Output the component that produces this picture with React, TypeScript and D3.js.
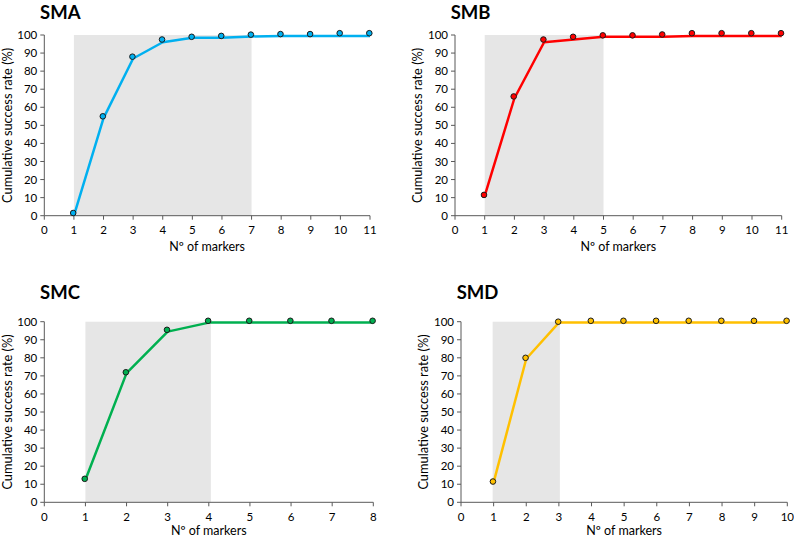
import React from "react";
import * as d3 from "d3";

const titles = ["SMA", "SMB", "SMC", "SMD"];
const colors = ["#00B0F0", "#FF0000", "#00B050", "#FFC000"];
const xMaxes = [11, 11, 8, 10];
const shadeStart = [1, 1, 1, 0.97];
const shadeEnd = [7, 5, 4.05, 3.03];

const smaPoints = [1.5, 55, 88, 97.5, 99, 99.5, 100.2, 100.5, 100.5, 101, 101];
const smaLine = [0, 54, 87, 96, 98.5, 98.5, 99.2, 99.5, 99.5, 99.5, 99.5];
const smbPoints = [11.5, 66, 97.5, 99, 99.8, 99.8, 100.3, 101, 101, 101, 101];
const smbLine = [11, 65, 96, 97.5, 99, 99, 99, 99.5, 99.5, 99.5, 99.5];
const smcPoints = [13, 72, 95.5, 100.5, 100.5, 100.5, 100.5, 100.5];
const smcLine = [12.5, 71.5, 94.5, 99.5, 99.5, 99.5, 99.5, 99.5];
const smdPoints = [11.5, 80, 100, 100.5, 100.5, 100.5, 100.5, 100.5, 100.5, 100.5];
const smdLine = [11, 79.5, 99.5, 99.5, 99.5, 99.5, 99.5, 99.5, 99.5, 99.5];

const pointSets = [smaPoints, smbPoints, smcPoints, smdPoints];
const lineSets = [smaLine, smbLine, smcLine, smdLine];
const yTicks = [0, 10, 20, 30, 40, 50, 60, 70, 80, 90, 100];

const boxes = [
  { left: 44.3, right: 370, top: 35, bottom: 215.7, titleX: 40, titleY: 18.5, xtY: 35 },
  { left: 455, right: 781.7, top: 35, bottom: 215.7, titleX: 450.7, titleY: 18.5, xtY: 35 },
  { left: 44.3, right: 373.3, top: 321.7, bottom: 502.3, titleX: 40, titleY: 299, xtY: 32.5 },
  { left: 461, right: 787.3, top: 321.7, bottom: 502.3, titleX: 456.7, titleY: 299, xtY: 32.5 },
];

const FONT = "Lato, 'Open Sans', sans-serif";
const AXIS = "#595959";

function Panel({ i }: { i: number }) {
  const b = boxes[i];
  const x = d3.scaleLinear().domain([0, xMaxes[i]]).range([b.left, b.right]);
  const y = d3.scaleLinear().domain([0, 100]).range([b.bottom, b.top]);
  const pts = pointSets[i];
  const ln = lineSets[i];
  const line = d3
    .line<number>()
    .x((_, k) => x(k + 1))
    .y((d) => y(d));
  const xTicks = d3.range(0, xMaxes[i] + 1);
  return (
    <g>
      <text x={b.titleX} y={b.titleY} fontFamily={FONT} fontWeight="bold" fontSize={18.5} fill="#000">
        {titles[i]}
      </text>
      <rect
        x={x(shadeStart[i])}
        y={y(100)}
        width={x(shadeEnd[i]) - x(shadeStart[i])}
        height={y(0) - y(100)}
        fill="#E6E6E6"
      />
      <line x1={b.left} x2={b.left} y1={b.top} y2={b.bottom} stroke={AXIS} strokeWidth={1} />
      <line x1={b.left} x2={b.right} y1={b.bottom} y2={b.bottom} stroke={AXIS} strokeWidth={1} />
      {yTicks.map((t) => (
        <g key={"y" + t}>
          <line x1={b.left - 4} x2={b.left} y1={y(t)} y2={y(t)} stroke={AXIS} />
          <text
            x={b.left - 7}
            y={y(t)}
            dy="0.35em"
            textAnchor="end"
            fontFamily={FONT}
            fontSize={11.5}
            fill="#000"
          >
            {t}
          </text>
        </g>
      ))}
      {xTicks.map((t) => (
        <g key={"x" + t}>
          <line x1={x(t)} x2={x(t)} y1={b.bottom} y2={b.bottom + 4} stroke={AXIS} />
          <text
            x={x(t)}
            y={b.bottom + 14.5}
            dy="0.35em"
            textAnchor="middle"
            fontFamily={FONT}
            fontSize={11.5}
            fill="#000"
          >
            {t}
          </text>
        </g>
      ))}
      <text
        x={(b.left + b.right) / 2}
        y={b.bottom + b.xtY}
        textAnchor="middle"
        fontFamily={FONT}
        fontSize={12.5}
        fill="#000"
      >
        Nº of markers
      </text>
      <text
        transform={`translate(${b.left - 37},${(b.top + b.bottom) / 2}) rotate(-90)`}
        textAnchor="middle"
        dy="0.35em"
        fontFamily={FONT}
        fontSize={12.8}
        fill="#000"
      >
        Cumulative success rate (%)
      </text>
      <path d={line(ln) || ""} fill="none" stroke={colors[i]} strokeWidth={2.5} strokeLinejoin="round" />
      {pts.map((v, k) => (
        <circle key={k} cx={x(k + 1) - 0.7} cy={y(v)} r={2.8} fill={colors[i]} stroke="#1a1a1a" strokeWidth={1} />
      ))}
    </g>
  );
}

export default function App() {
  return (
    <svg
      width={794}
      height={539}
      style={{ position: "absolute", left: 0, top: 0, background: "#fff" }}
    >
      <rect width={794} height={539} fill="#fff" />
      {[0, 1, 2, 3].map((i) => (
        <Panel key={i} i={i} />
      ))}
    </svg>
  );
}
